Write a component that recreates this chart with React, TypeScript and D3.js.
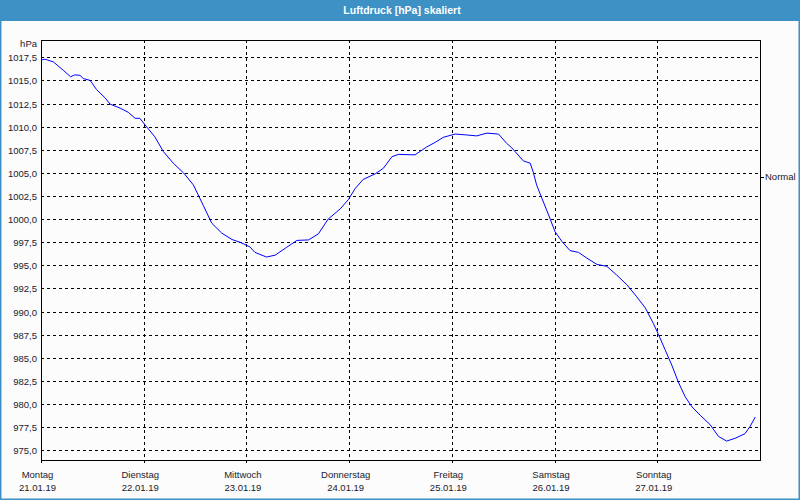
import React from "react";
import * as d3 from "d3";

const TITLE = "Luftdruck [hPa] skaliert";
const UNIT = "hPa";
const NORMAL_LABEL = "Normal";
const NORMAL_VALUE = 1004.6;

const dayNames = ["Montag", "Dienstag", "Mittwoch", "Donnerstag", "Freitag", "Samstag", "Sonntag"];
const dayDates = ["21.01.19", "22.01.19", "23.01.19", "24.01.19", "25.01.19", "26.01.19", "27.01.19"];

const yTicks = [1017.5, 1015, 1012.5, 1010, 1007.5, 1005, 1002.5, 1000, 997.5, 995, 992.5, 990, 987.5, 985, 982.5, 980, 977.5, 975];

// hours since Monday 00:00
const hours = [0, 0.9, 2.9, 5.2, 6.9, 7.9, 9.1, 9.9, 11.5, 13.0, 15.0, 16.1, 18.5, 20.4, 22.0, 23.1, 24.3, 26.6, 28.6, 30.9, 33.3, 35.6, 37.9, 39.9, 42.2, 44.6, 46.5, 48.8, 50.0, 52.7, 54.7, 57.4, 59.8, 62.5, 64.8, 67.1, 69.9, 71.8, 73.4, 75.3, 78.1, 80.0, 82.0, 83.5, 87.4, 90.1, 92.1, 94.0, 96.8, 99.5, 101.8, 104.2, 106.9, 108.8, 110.0, 112.7, 114.3, 115.0, 115.8, 117.0, 118.6, 120.1, 121.7, 123.6, 125.6, 127.5, 129.9, 132.2, 134.5, 136.9, 139.2, 141.2, 143.1, 144.3, 145.8, 147.4, 148.9, 150.5, 152.1, 154.0, 156.3, 158.3, 160.2, 162.2, 164.5, 165.7, 166.9];
const pressure = [1017.2, 1017.3, 1017.0, 1016.1, 1015.4, 1015.6, 1015.55, 1015.2, 1015.0, 1014.0, 1013.1, 1012.45, 1012.0, 1011.55, 1010.9, 1010.9, 1010.2, 1008.9, 1007.3, 1006.05, 1005.0, 1003.7, 1001.5, 999.56, 998.5, 997.8, 997.5, 997.0, 996.4, 995.9, 996.1, 996.95, 997.7, 997.75, 998.4, 1000.0, 1001.1, 1002.1, 1003.3, 1004.3, 1004.9, 1005.5, 1006.75, 1007.0, 1006.95, 1007.8, 1008.3, 1008.85, 1009.2, 1009.1, 1009.0, 1009.3, 1009.2, 1008.2, 1007.7, 1006.3, 1006.05, 1005.1, 1003.7, 1002.3, 1000.45, 998.65, 997.6, 996.6, 996.4, 995.8, 995.1, 994.9, 993.96, 992.9, 991.6, 990.4, 988.7, 987.5, 985.9, 984.2, 982.4, 980.8, 979.7, 978.8, 977.8, 976.5, 976.0, 976.3, 976.8, 977.6, 978.6];

const W = 800;
const H = 500;
const BLUE = "#3d91c5";
const FONT = "'Liberation Sans', Arial, sans-serif";

export default function App() {
  const left = 41;
  const right = 760;
  const top = 40;
  const bottom = 460;

  const x = d3.scaleLinear().domain([0, 168]).range([left, right]);
  const y = d3.scaleLinear().domain([975, 1017.5]).range([450.3, 57.3]);
  const snap = (v: number) => Math.round(v) + 0.5;

  const data = hours.map((h, i) => [h, pressure[i]] as [number, number]);
  const line = d3
    .line<[number, number]>()
    .x((d) => x(d[0]))
    .y((d) => y(d[1]));

  const fmt = (v: number) => v.toFixed(1).replace(".", ",");

  return (
    <svg width={W} height={H} style={{ position: "absolute", left: 0, top: 0, display: "block" }}>
      <rect x={0} y={0} width={W} height={H} fill="#fbfcfb" />
      <rect x={0} y={0} width={W} height={21} fill={BLUE} />
      <text x={402} y={14} textAnchor="middle" fill="#ffffff" fontFamily={FONT} fontWeight="bold" fontSize={10.5}>
        {TITLE}
      </text>
      <rect x={0.5} y={0.5} width={W - 1} height={H - 1} fill="none" stroke={BLUE} strokeWidth={2} />

      {/* horizontal grid */}
      {yTicks.map((t) => (
        <line key={"h" + t} x1={left} x2={right} y1={snap(y(t))} y2={snap(y(t))} stroke="#000" strokeDasharray="3,3" shapeRendering="crispEdges" />
      ))}
      {/* vertical grid */}
      {dayNames.map((_, i) => (
        <line key={"v" + i} x1={snap(x(i * 24))} x2={snap(x(i * 24))} y1={top} y2={bottom + 3} stroke="#000" strokeDasharray="3,3" shapeRendering="crispEdges" />
      ))}

      {/* frame */}
      <line x1={left + 0.5} x2={left + 0.5} y1={top} y2={bottom + 3} stroke="#000" shapeRendering="crispEdges" />
      <line x1={left} x2={right + 1} y1={top + 0.5} y2={top + 0.5} stroke="#000" shapeRendering="crispEdges" />
      <line x1={right + 0.5} x2={right + 0.5} y1={top} y2={bottom + 1} stroke="#000" shapeRendering="crispEdges" />
      <line x1={left} x2={right + 1} y1={bottom + 0.5} y2={bottom + 0.5} stroke="#000" shapeRendering="crispEdges" />

      {/* normal tick */}
      <line x1={right + 1} x2={right + 4} y1={snap(y(NORMAL_VALUE))} y2={snap(y(NORMAL_VALUE))} stroke="#000" shapeRendering="crispEdges" />
      <text x={765} y={y(NORMAL_VALUE) + 3.5} fontFamily={FONT} fontSize={9.5} fill="#1a1a2e">
        {NORMAL_LABEL}
      </text>

      {/* y labels */}
      <text x={37} y={47} textAnchor="end" fontFamily={FONT} fontSize={9.5} fill="#1a1a2e">
        {UNIT}
      </text>
      {yTicks.map((t) => (
        <text key={"l" + t} x={37} y={y(t) + 4} textAnchor="end" fontFamily={FONT} fontSize={9.5} fill="#1a1a2e">
          {fmt(t)}
        </text>
      ))}

      {/* x labels */}
      {dayNames.map((n, i) => (
        <g key={"d" + i}>
          <text x={x(i * 24) - 3.5} y={477.5} textAnchor="middle" fontFamily={FONT} fontSize={9.5} fill="#1a1a2e">
            {n}
          </text>
          <text x={x(i * 24) - 3.5} y={491} textAnchor="middle" fontFamily={FONT} fontSize={9.5} fill="#1a1a2e">
            {dayDates[i]}
          </text>
        </g>
      ))}

      <path d={line(data) || ""} fill="none" stroke="#0000ff" strokeWidth={1} />
    </svg>
  );
}
